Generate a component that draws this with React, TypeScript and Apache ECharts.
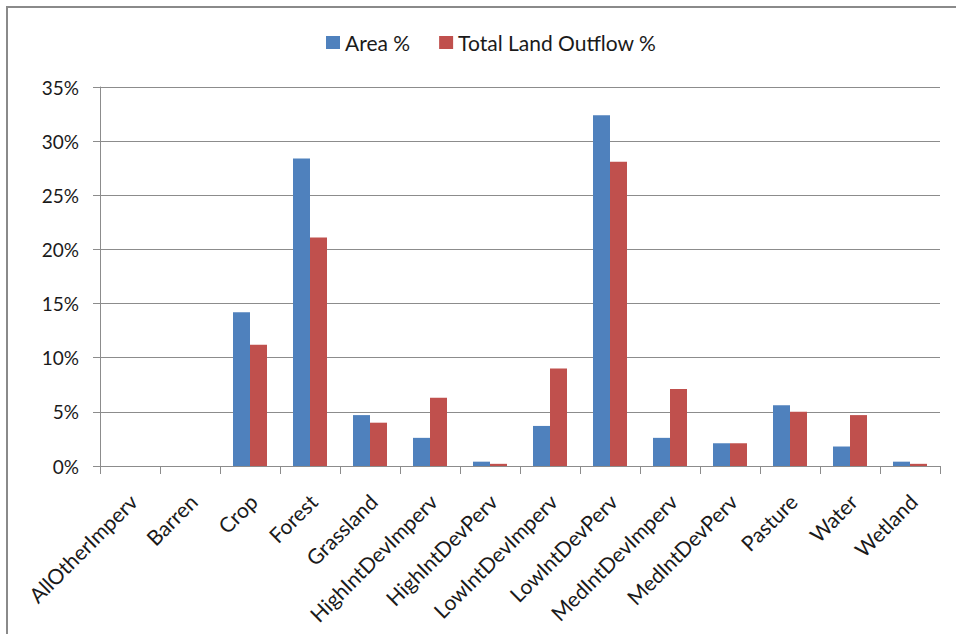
import React, { useEffect, useRef } from "react";
import * as echarts from "echarts";

// Land-use categories and their shares (percent)
const categories = [
  "AllOtherImperv",
  "Barren",
  "Crop",
  "Forest",
  "Grassland",
  "HighIntDevImperv",
  "HighIntDevPerv",
  "LowIntDevImperv",
  "LowIntDevPerv",
  "MedIntDevImperv",
  "MedIntDevPerv",
  "Pasture",
  "Water",
  "Wetland",
];
const areaPct = [0, 0, 14.2, 28.4, 4.7, 2.6, 0.4, 3.7, 32.4, 2.6, 2.1, 5.6, 1.8, 0.4];
const outflowPct = [0, 0, 11.2, 21.1, 4.0, 6.3, 0.2, 9.0, 28.1, 7.1, 2.1, 5.0, 4.7, 0.2];
const seriesNames = ["Area %", "Total Land Outflow %"];
const yMax = 35;
const yStep = 5;

const FONT = "Lato, 'Noto Sans', sans-serif";
const GRID_GRAY = "#8c8c8c";
const TEXT = "#1a1a1a";

export default function App() {
  const ref = useRef<HTMLDivElement>(null);

  useEffect(() => {
    document.body.style.margin = "0";
    if (!ref.current) return;
    const chart = echarts.init(ref.current, undefined, { renderer: "svg" });
    chart.setOption({
      animation: false,
      backgroundColor: "#ffffff",
      textStyle: { fontFamily: FONT },
      graphic: [
        {
          type: "rect",
          shape: { x: 7, y: 7, width: 1000, height: 700 },
          style: { fill: "none", stroke: "#8a8a8a", lineWidth: 2 },
          silent: true,
          z: 0,
        },
      ],
      legend: {
        left: 326,
        top: 32,
        padding: 0,
        itemWidth: 14,
        itemHeight: 13,
        itemGap: 29,
        icon: "rect",
        textStyle: { fontSize: 21, color: TEXT, fontFamily: FONT },
        data: seriesNames,
      },
      grid: { left: 100, right: 16, top: 87, bottom: 168, containLabel: false },
      xAxis: {
        type: "category",
        data: categories,
        axisLine: { show: true, lineStyle: { color: GRID_GRAY, width: 1 } },
        axisTick: { show: true, length: 8, lineStyle: { color: GRID_GRAY } },
        axisLabel: {
          interval: 0,
          rotate: 45,
          margin: 20,
          fontSize: 21,
          verticalAlign: "top",
          padding: [0, 6, 0, 0],
          color: TEXT,
          fontFamily: FONT,
        },
      },
      yAxis: {
        type: "value",
        min: 0,
        max: yMax,
        interval: yStep,
        axisLine: { show: true, lineStyle: { color: GRID_GRAY, width: 1 } },
        axisTick: { show: true, length: 7, lineStyle: { color: GRID_GRAY } },
        splitLine: { show: true, lineStyle: { color: GRID_GRAY, width: 1 } },
        axisLabel: {
          margin: 21,
          fontSize: 19,
          color: TEXT,
          fontFamily: FONT,
          formatter: (v: number) => `${v}%`,
        },
      },
      series: [
        {
          name: seriesNames[0],
          type: "bar",
          data: areaPct,
          barWidth: 17,
          barGap: "0%",
          itemStyle: { color: "#4f81bd" },
        },
        {
          name: seriesNames[1],
          type: "bar",
          data: outflowPct,
          barWidth: 17,
          barGap: "0%",
          itemStyle: { color: "#c0504d" },
        },
      ],
    });
    return () => chart.dispose();
  }, []);

  return <div ref={ref} style={{ width: 956, height: 634 }} />;
}
